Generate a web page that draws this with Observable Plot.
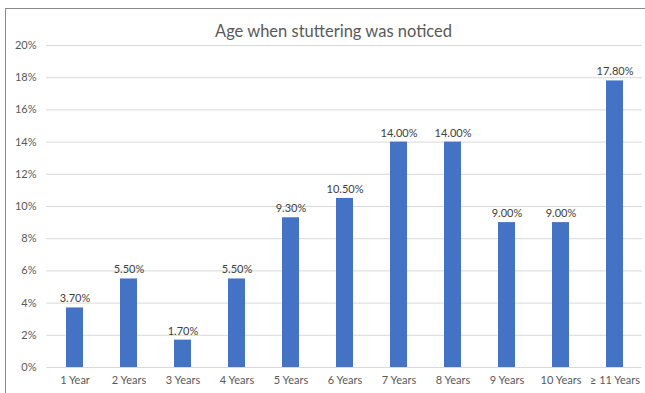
<!DOCTYPE html>
<html>
<head>
<meta charset="utf-8">
<script src="https://cdn.jsdelivr.net/npm/d3@7"></script>
<script src="https://cdn.jsdelivr.net/npm/@observablehq/plot@0.6"></script>
<style>
  html, body { margin: 0; padding: 0; background: #fff; }
  #wrap { position: relative; width: 645px; height: 393px; overflow: hidden; }
  #border { position: absolute; left: 5px; top: 8px; width: 700px; height: 500px;
            border-top: 1.5px solid #8a8a8a; border-left: 1.5px solid #8a8a8a; pointer-events: none; }
  #chart { position: absolute; left: 0; top: 0; }
</style>
</head>
<body>
<div id="wrap"><div id="chart"></div><div id="border"></div></div>
<script>
const title = "Age when stuttering was noticed";
const categories = ["1 Year", "2 Years", "3 Years", "4 Years", "5 Years", "6 Years", "7 Years", "8 Years", "9 Years", "10 Years", "≥ 11 Years"];
const values = [3.7, 5.5, 1.7, 5.5, 9.3, 10.5, 14.0, 14.0, 9.0, 9.0, 17.8];
const yTicks = [0, 2, 4, 6, 8, 10, 12, 14, 16, 18, 20];

const data = categories.map((c, i) => ({category: c, value: values[i]}));

const chart = Plot.plot({
  width: 645,
  height: 393,
  marginTop: 45,
  marginBottom: 26,
  marginLeft: 46,
  marginRight: 3,
  style: {fontFamily: "Lato, 'Open Sans', sans-serif", fontSize: "11px", color: "#595959", background: "transparent"},
  x: {domain: categories, paddingInner: 0.69, paddingOuter: 0.345, label: null},
  y: {domain: [0, 20], label: null},
  marks: [
    Plot.ruleY(yTicks, {stroke: "#d9d9d9", strokeWidth: 1}),
    Plot.axisY({ticks: yTicks, tickFormat: d => d + "%", tickSize: 0, tickPadding: 10, label: null, fill: "#595959", fontSize: 11}),
    Plot.axisX({tickSize: 0, tickPadding: 9, label: null, fill: "#595959", fontSize: 11}),
    Plot.barY(data, {x: "category", y: "value", fill: "#4472C4"}),
    Plot.text(data, {x: "category", y: "value", text: d => d.value.toFixed(2) + "%", dy: -9, fill: "#404040", fontSize: 11}),
    Plot.text([title], {frameAnchor: "top", dy: -20, dx: -11, text: d => d, fontSize: 16.5, fill: "#595959"})
  ]
});
document.getElementById("chart").appendChild(chart);
</script>
</body>
</html>
